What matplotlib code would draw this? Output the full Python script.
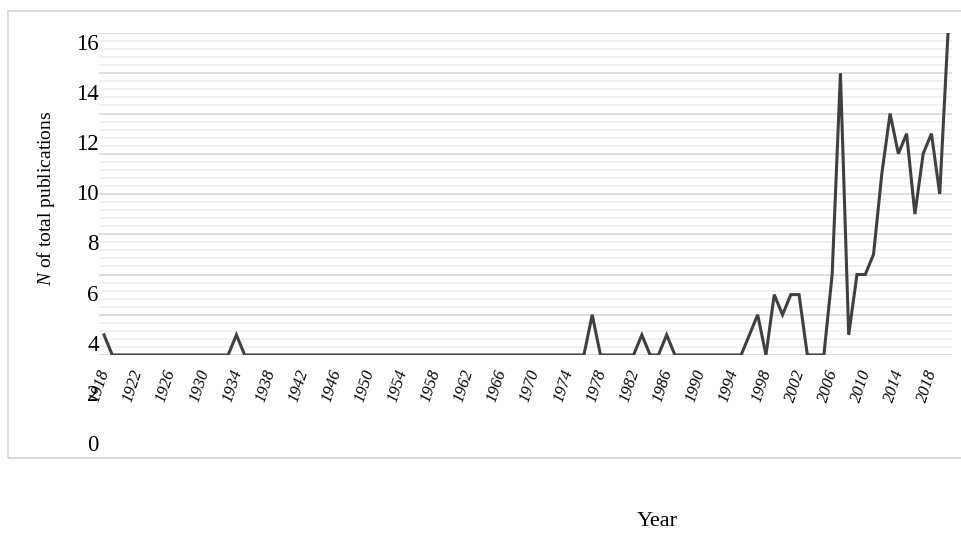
import numpy as np
import matplotlib
matplotlib.use("Agg")
import matplotlib.pyplot as plt
from matplotlib.patches import Rectangle
from matplotlib.transforms import ScaledTranslation

plt.rcParams["font.family"] = ["Liberation Serif", "DejaVu Serif"]
plt.rcParams["mathtext.fontset"] = "custom"
plt.rcParams["mathtext.it"] = "Liberation Serif:italic"
plt.rcParams["mathtext.rm"] = "Liberation Serif"

# Publications per year, 1918-2020
years = list(range(1918, 2021))
publications = [
    1, 0, 0, 0, 0, 0, 0, 0, 0, 0,      # 1918-1927
    0, 0, 0, 0, 0, 0, 1, 0, 0, 0,      # 1928-1937
    0, 0, 0, 0, 0, 0, 0, 0, 0, 0,      # 1938-1947
    0, 0, 0, 0, 0, 0, 0, 0, 0, 0,      # 1948-1957
    0, 0, 0, 0, 0, 0, 0, 0, 0, 0,      # 1958-1967
    0, 0, 0, 0, 0, 0, 0, 0, 0, 2,      # 1968-1977
    0, 0, 0, 0, 0, 1, 0, 0, 1, 0,      # 1978-1987
    0, 0, 0, 0, 0, 0, 0, 0, 1, 2,      # 1988-1997
    0, 3, 2, 3, 3, 0, 0, 0, 4, 14,     # 1998-2007
    1, 4, 4, 5, 9, 12, 10, 11, 7, 10,  # 2008-2017
    11, 8, 16,                         # 2018-2020
]
year_ticks = list(range(1918, 2019, 4))
value_ticks = [0, 2, 4, 6, 8, 10, 12, 14, 16]

W, H = 962, 533
fig = plt.figure(figsize=(W / 100, H / 100), dpi=100)

# outer chart frame
fig.patches.append(Rectangle((8 / W, 1 - 458 / H), 980 / W, (458 - 11) / H,
                             transform=fig.transFigure, fill=False,
                             edgecolor="#d9d9d9", linewidth=1.3))

# plotting area
ax = fig.add_axes([99 / W, 1 - 355 / H, 853 / W, 322 / H])
ax.plot(years, publications, color="#404040", linewidth=2.2,
        solid_joinstyle="miter", zorder=3)
px_per_year = 844 / 102
ax.set_xlim(1918 - 5 / px_per_year, 2020 + 4 / px_per_year)
ax.set_ylim(0, 16)
ax.set_yticks(value_ticks)
ax.set_yticks(np.arange(0, 16.01, 0.4), minor=True)
ax.grid(axis="y", which="major", color="#d9d9d9", linewidth=1.2, zorder=1)
ax.grid(axis="y", which="minor", color="#efefef", linewidth=1.2, zorder=0)
ax.tick_params(axis="y", which="both", length=0, labelleft=False)
for s in ax.spines.values():
    s.set_visible(False)

ax.set_xticks(year_ticks)
ax.set_xticklabels([str(y) for y in year_ticks], rotation=72,
                   fontsize=12, fontstyle="italic", ha="center", va="top")
ax.tick_params(axis="x", length=0, pad=9)
offset = ScaledTranslation(-4 / 100, 0, fig.dpi_scale_trans)
for lbl in ax.get_xticklabels():
    lbl.set_transform(lbl.get_transform() + offset)

# value labels column
lab = fig.add_axes([100 / W, 1 - 443 / H, 0.001, 401 / H])
lab.set_ylim(0, 16)
lab.set_xticks([])
lab.set_yticks(value_ticks)
lab.set_yticklabels([str(v) for v in value_ticks], fontsize=16.5)
lab.tick_params(axis="y", length=0, pad=1)
lab.patch.set_visible(False)
for s in lab.spines.values():
    s.set_visible(False)

fig.text(46 / W, 1 - 198 / H, r"$\mathit{N}$ of total publications",
         rotation=90, ha="center", va="center", fontsize=14)
fig.text(657 / W, 1 - 522 / H, "Year", ha="center", va="center", fontsize=16)

fig.savefig("out.png", dpi=100)
